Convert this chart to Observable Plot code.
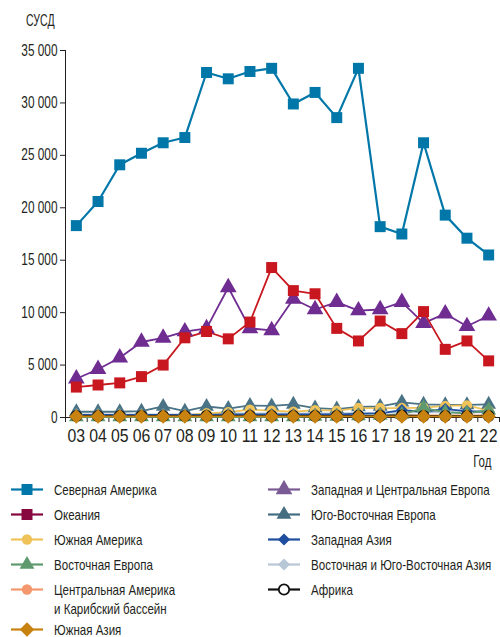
<!DOCTYPE html>
<html>
<head>
<meta charset="utf-8">
<script src="https://cdn.jsdelivr.net/npm/d3@7"></script>
<script src="https://cdn.jsdelivr.net/npm/@observablehq/plot@0.6"></script>
<style>
  body { margin: 0; background: #fff; }
  #wrap { position: relative; width: 500px; height: 637px; font-family: "Liberation Sans", Arial, sans-serif; color: #231f20; }
  #chart { position: absolute; left: 0; top: 0; }
  .lab { position: absolute; white-space: nowrap; line-height: 1; }
  .leg { position: absolute; display: flex; align-items: flex-start; font-size: 15px; line-height: 19px; }
  .leg svg { flex: none; }
  .leg .txt { transform: scaleX(0.77); transform-origin: 0 0; white-space: nowrap; }
</style>
</head>
<body>
<div id="wrap">
  <div id="chart"></div>
</div>
<script>
const years = [3,4,5,6,7,8,9,10,11,12,13,14,15,16,17,18,19,20,21,22];
const yTicks = [0,5000,10000,15000,20000,25000,30000,35000];
const yLabel = "СУСД";
const xLabel = "Год";

const northAmerica      = [18300,20600,24100,25200,26200,26700,32900,32300,33000,33300,29900,31000,28600,33300,18200,17500,26200,19300,17100,15500];
const oceania           = [2900,3100,3300,3900,5000,7600,8200,7500,9100,14300,12100,11800,8500,7300,9200,8000,10100,6500,7300,5400];
const westCentralEurope = [3700,4600,5700,7200,7600,8200,8500,12400,8500,8300,11300,10300,11000,10200,10300,11000,9000,9900,8700,9700];
const southEastEurope   = [550,550,550,600,1050,600,1050,850,1150,1100,1250,900,800,1000,1050,1450,1250,1200,1200,1250];
const southAmerica      = [200,200,200,200,200,200,400,500,750,650,550,700,650,900,900,900,950,1100,1150,650];
const westernAsia       = [250,250,250,250,250,250,250,300,300,300,300,300,300,350,400,700,550,800,600,550];
const easternEurope     = [50,50,50,50,50,50,50,50,50,50,50,100,100,150,200,300,900,500,400,700];
const eastSouthEastAsia = [300,300,300,300,300,300,350,400,400,400,400,400,400,450,450,500,500,500,500,500];
const centralAmerica    = [150,150,150,150,150,150,150,150,150,150,150,150,150,150,150,200,200,200,200,200];
const africa            = [150,150,150,150,150,150,150,150,150,150,150,150,150,150,150,200,150,150,150,150];
const southAsia         = [100,100,100,100,100,100,100,100,100,100,100,100,100,100,100,100,100,100,100,100];

const names = ["Северная Америка","Океания","Южная Америка","Восточная Европа","Центральная Америка и Карибский бассейн","Южная Азия","Западная и Центральная Европа","Юго-Восточная Европа","Западная Азия","Восточная и Юго-Восточная Азия","Африка"];
const values = [northAmerica, oceania, southAmerica, easternEurope, centralAmerica, southAsia, westCentralEurope, southEastEurope, westernAsia, eastSouthEastAsia, africa];
const colors = ["#0077a8","#c8171e","#efc35a","#5e9a6e","#f4976c","#c8820f","#6f2c91","#4a7385","#1f4e9e","#b7c7d6","#111111"];
const legendColors = ["#0077a8","#86083f","#efc35a","#5e9a6e","#f4976c","#c8820f","#7a5b95","#456e80","#1f4e9e","#b7c7d6","#111111"];
const symbols = ["square","square","circle","triangle","circle","diamond2","triangle","triangle","diamond2","diamond2","circle"];
const radii = [6.2,6.2,5.2,5.5,5.2,6.5,6.2,5.5,5.5,5.5,5.2];
const fills = colors.map((c,i) => i === 10 ? "none" : c);
// drawing order bottom -> top
const order = [7,9,2,8,3,4,10,5,6,1,0];

const rows = [];
values.forEach((arr, s) => arr.forEach((v, i) => rows.push({series: s, year: years[i], value: v})));

const fmt = d => d3.format(",")(d).replace(/,/g, " ");
const halfSteps = d3.range(2.5, 22.51, 0.5);

const marks = [
  Plot.ruleY([0], {x1: 2.5, x2: 22.5, stroke: "#231f20", strokeWidth: 1}),
  Plot.ruleX([2.5], {y1: 0, y2: 35000, stroke: "#231f20", strokeWidth: 1}),
  Plot.axisX({ticks: halfSteps, tickSize: 5, tickFormat: () => "", stroke: "#231f20", label: null}),
  Plot.axisX({ticks: years, tickSize: 0, tickPadding: 12, tickFormat: d => d3.format("02d")(d), fontSize: 18, fill: "#231f20", label: null}),
  Plot.axisY({ticks: yTicks, tickSize: 5, tickPadding: 3, tickFormat: fmt, fontSize: 16, fill: "#231f20", stroke: "#231f20", label: null})
];
for (const s of order) {
  const d = rows.filter(r => r.series === s);
  marks.push(Plot.line(d, {x: "year", y: "value", stroke: colors[s], strokeWidth: s === 0 ? 2.2 : 1.8}));
}
for (const s of order) {
  const d = rows.filter(r => r.series === s);
  marks.push(Plot.dot(d, {x: "year", y: "value", symbol: () => symbols[s], r: radii[s], fill: fills[s], stroke: s === 10 ? "#111" : "none", strokeWidth: 1.6}));
}

const chart = Plot.plot({
  width: 500,
  height: 470,
  marginTop: 50,
  marginBottom: 53,
  marginLeft: 65,
  marginRight: 1,
  style: {fontFamily: "'Liberation Sans', Arial, sans-serif", background: "#fff", overflow: "visible"},
  x: {type: "linear", domain: [2.5, 22.5], axis: null},
  y: {domain: [0, 35000], axis: null},
  symbol: {type: "identity"},
  marks
});
document.getElementById("chart").appendChild(chart);

// condense axis label text horizontally (reference uses a condensed face)
function condenseText(t, s) {
  let x = parseFloat(t.getAttribute("x"));
  if (!isFinite(x) || /em/.test(t.getAttribute("x") || "")) x = 0;
  const tr = t.getAttribute("transform") || "";
  t.setAttribute("transform", `${tr} translate(${x},0) scale(${s},1) translate(${-x},0)`);
}
chart.querySelectorAll("text").forEach(t => {
  if (!t.textContent) return;
  const g = t.closest("g[aria-label]");
  const lab = g ? g.getAttribute("aria-label") : "";
  if (lab.startsWith("y-axis")) condenseText(t, 0.74);
  else if (lab.startsWith("x-axis")) condenseText(t, 0.88);
});

const wrap = document.getElementById("wrap");
function addLabel(text, pos, top, size, anchorRight, scale) {
  const el = document.createElement("div");
  el.className = "lab";
  el.textContent = text;
  el.style.fontSize = size + "px";
  el.style.top = top + "px";
  el.style.transform = `scaleX(${scale})`;
  if (anchorRight) { el.style.right = (500 - pos) + "px"; el.style.transformOrigin = "100% 0"; }
  else { el.style.left = pos + "px"; el.style.transformOrigin = "0 0"; }
  wrap.appendChild(el);
}
addLabel(yLabel, 26, 13, 16, false, 0.66);
addLabel(xLabel, 491, 454, 16, true, 0.72);

// legend
const legendPos = [
  [10, 480], [10, 505], [10, 530], [10, 555], [10, 580], [10, 620],
  [267, 480], [267, 505], [267, 530], [267, 555], [267, 580]
];
const legendNames = names.map(n => n === "Центральная Америка и Карибский бассейн" ? "Центральная Америка<br>и Карибский бассейн" : n);
const symMap = {square: d3.symbolSquare, circle: d3.symbolCircle, triangle: d3.symbolTriangle, diamond2: d3.symbolDiamond2};
legendPos.forEach(([lx, ly], s) => {
  const item = document.createElement("div");
  item.className = "leg";
  item.style.left = lx + "px";
  item.style.top = ly + "px";
  const svg = d3.create("svg").attr("width", 44).attr("height", 19);
  svg.append("line").attr("x1", 1).attr("x2", 33).attr("y1", 9.5).attr("y2", 9.5)
    .attr("stroke", legendColors[s]).attr("stroke-width", 2.2);
  const r = radii[s];
  const sym = d3.symbol(symMap[symbols[s]], Math.PI * r * r);
  svg.append("path").attr("d", sym()).attr("transform", "translate(17,9.5)")
    .attr("fill", s === 10 ? "#fff" : legendColors[s])
    .attr("stroke", s === 10 ? "#111" : "none").attr("stroke-width", 1.8);
  item.appendChild(svg.node());
  const t = document.createElement("div");
  t.className = "txt";
  t.innerHTML = legendNames[s];
  item.appendChild(t);
  wrap.appendChild(item);
});
</script>
</body>
</html>
